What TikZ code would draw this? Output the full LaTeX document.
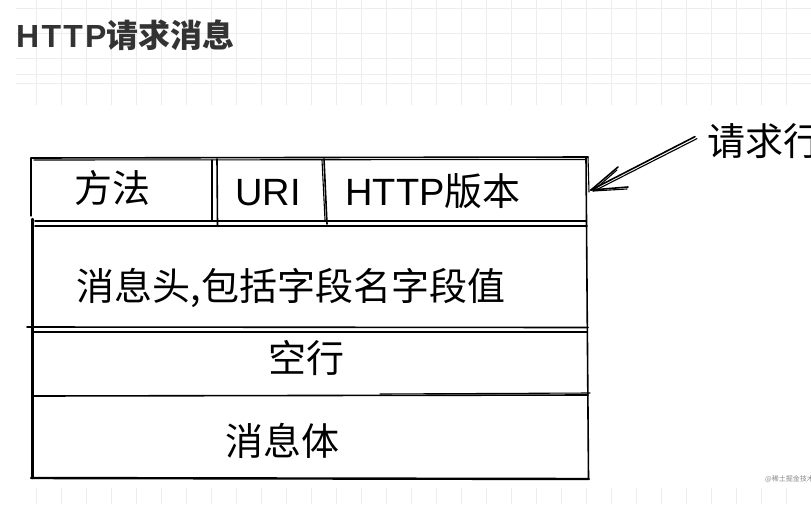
\documentclass[tikz,border=0pt]{standalone}
\usepackage{fontspec}
\setmainfont{Noto Sans CJK SC}
\newfontfamily\lat{Liberation Sans}
\newfontfamily\titlelat[LetterSpace=7]{Liberation Sans}
\definecolor{gridc}{HTML}{EDEDED}
\definecolor{titlec}{HTML}{333333}
\definecolor{wmc}{HTML}{8A8A8A}
\tikzset{
  gridline/.style={draw=gridc, line width=0.8pt},
  ink/.style={draw=black, line width=1.6pt, line cap=round, line join=round},
  thinink/.style={draw=black, line width=1.1pt, line cap=round},
  thickink/.style={draw=black, line width=2.4pt, line cap=round},
  lbl/.style={inner sep=0pt, anchor=base, font=\fontsize{38}{40}\selectfont},
}
\begin{document}
\begin{tikzpicture}[x=1pt,y=-1pt]
\useasboundingbox (0,0) rectangle (811,504);
\fill[white] (0,0) rectangle (811,504);
% background grid (visible above and below the drawing)
\foreach \x in {36,61,...,811} {
  \draw[gridline] (\x,0) -- (\x,105);
  \draw[gridline] (\x,488) -- (\x,504);
}
\foreach \y in {8,33,58,74,83} \draw[gridline] (16,\y) -- (811,\y);

% title
\node[inner sep=0pt, anchor=base west, text=titlec, font=\fontsize{32}{34}\selectfont\bfseries] (title) at (16,47) {{\titlelat\bfseries HTTP}请求消息};

% outer box (sketchy double strokes)
\draw[ink] (31,158) -- (588,157);
\draw[thinink] (34,160) -- (586,159.5);
\draw[thinink] (31,158) -- (31,216);
\draw[thickink] (32.5,219) -- (32.5,478);
\draw[ink] (586,158) -- (588.5,478);
\draw[thinink] (588,157) -- (589,192);
\draw[thickink] (31,478) -- (589,479);

% row 1 lower edge and dividers
\draw[ink] (35,221) -- (586,221);
\draw[ink] (35,226) -- (587,226);
\draw[thinink] (212,160) -- (212,220);
\draw[ink] (217,159) -- (217.5,225);
\draw[thinink] (322,160) -- (325,220);
\draw[ink] (324,159) -- (327,224);

% row 2 lower edge
\draw[ink] (27,327) -- (588,327.5);
\draw[ink] (33,332) -- (587,332);

% row 3 lower edge
\draw[ink] (33,396) -- (588,395);
\draw[thinink] (380,394) -- (590,393);

% texts
\node[lbl] (method) at (112,202) {方法};
\node[lbl] (uri) at (268,205) {\lat URI};
\node[lbl] (ver) at (433,205) {{\lat HTTP}版本};
\node[lbl] (hdr) at (291,300) {消息头,包括字段名字段值};
\node[lbl] (blank) at (306,372) {空行};
\node[lbl] (body) at (282,455) {消息体};
\node[lbl, anchor=base west] (req) at (707,155) {请求行};

% arrow from label to request line
\coordinate (tip) at (591,190);
\draw[ink] ([shift={(-12,-4)}]req.west) -- (tip);
\draw[thinink] ([shift={(-10,-2)}]req.west) -- ([shift={(3,1)}]tip);
\draw[ink] (tip) -- ++(27,-23);
\draw[thinink] ([shift={(2,1)}]tip) -- ++(24,-21);
\draw[ink] (tip) -- ++(37,-3);
\draw[thinink] ([shift={(2,1)}]tip) -- ++(34,-2);

% watermark
\node[inner sep=0pt, anchor=base west, text=wmc, font=\fontsize{7}{8}\selectfont] (wm) at (765,481) {@稀土掘金技术社区};
\end{tikzpicture}
\end{document}
